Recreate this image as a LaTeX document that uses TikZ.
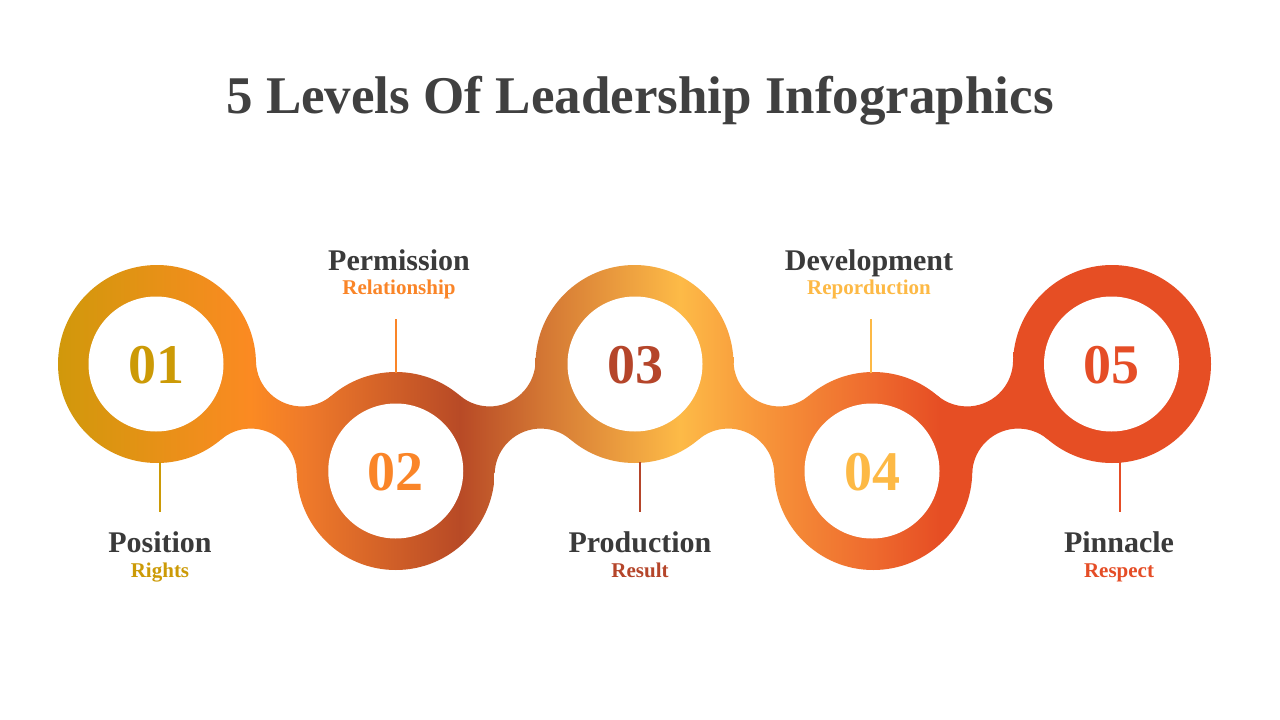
\documentclass[tikz,border=0pt]{standalone}
\usepackage{fontspec}
\setmainfont{Liberation Serif}
\usetikzlibrary{calc}
\definecolor{titlegray}{HTML}{404040}
\definecolor{labgray}{HTML}{3A3A3A}
\definecolor{cgold}{HTML}{CC9A06}
\definecolor{corange}{HTML}{FA8528}
\definecolor{crust}{HTML}{B5452A}
\definecolor{cyellow}{HTML}{FDB945}
\definecolor{cred}{HTML}{E54D26}
% gradient stops (px -> bp: 25 + 50*px/1280)
\definecolor{g0}{HTML}{CF990A}
\definecolor{g1}{HTML}{FB8A22}
\definecolor{g2}{HTML}{EF7A2A}
\definecolor{g3}{HTML}{B84A26}
\definecolor{g4}{HTML}{D47834}
\definecolor{g5}{HTML}{FDBA47}
\definecolor{g6}{HTML}{F7963A}
\definecolor{g7}{HTML}{EE6A2E}
\definecolor{g8}{HTML}{E64E24}
\pgfdeclarehorizontalshading{bandshade}{100bp}{%
 color(0bp)=(g0); color(26.95bp)=(g0); color(34.77bp)=(g1); color(36.9bp)=(g2);
 color(42.97bp)=(g3); color(46.3bp)=(g4); color(51.56bp)=(g5); color(54.7bp)=(g6);
 color(59.1bp)=(g7); color(61.7bp)=(g8); color(100bp)=(g8)}
\tikzset{
  bandfill/.style={shading=bandshade},
  hole/.style={circle, fill=white, minimum size=135pt, inner sep=0pt},
  numtxt/.style={font=\bfseries\fontsize{56}{56}\selectfont, anchor=base},
  headtxt/.style={font=\bfseries\fontsize{30}{30}\selectfont, text=labgray, anchor=base},
  subtxt/.style={font=\bfseries\fontsize{21}{21}\selectfont, anchor=base},
  stem/.style={line width=2pt}
}
\begin{document}
\begin{tikzpicture}[x=1pt,y=-1pt]
\useasboundingbox (0,0) rectangle (1280,720);
\fill[white] (0,0) rectangle (1280,720);
\node[font=\bfseries\fontsize{53}{53}\selectfont, text=titlegray, anchor=base] (title) at (640,113) {5 Levels Of Leadership Infographics};
% rings (outer disks)
\foreach \cx/\cy in {157/364, 395.75/471, 634.5/364, 873.25/471, 1112/364}{
  \begin{scope}
    \clip (\cx,\cy) circle[radius=99];
    \shade[bandfill] (0,0) rectangle (1280,720);
  \end{scope}
}
% bridges going down
\foreach \xl in {157, 634.5}{
  \begin{scope}
    \clip ($(\xl+144.95,360.43)+(178.59:46)$) arc[start angle=178.59, end angle=49.69, radius=46]
       -- ($(\xl+93.8,474.57)+(-1.41:46)$) arc[start angle=-1.41, end angle=-130.31, radius=46] -- cycle;
    \shade[bandfill] (0,0) rectangle (1280,720);
  \end{scope}
}
% bridges going up
\foreach \xl in {395.75, 873.25}{
  \begin{scope}
    \clip ($(\xl+93.8,360.43)+(130.31:46)$) arc[start angle=130.31, end angle=1.41, radius=46]
       -- ($(\xl+144.95,474.57)+(-49.69:46)$) arc[start angle=-49.69, end angle=-178.59, radius=46] -- cycle;
    \shade[bandfill] (0,0) rectangle (1280,720);
  \end{scope}
}
% inner white circles
\node[hole] (r1) at (156,364) {};
\node[hole] (r2) at (395.75,471) {};
\node[hole] (r3) at (635,364) {};
\node[hole] (r4) at (872,471) {};
\node[hole] (r5) at (1111.5,364) {};
\node[numtxt, text=cgold] (n1) at (156,383.5) {01};
\node[numtxt, text=corange] (n2) at (395.75,490) {02};
\node[numtxt, text=crust] (n3) at (635,383.5) {03};
\node[numtxt, text=cyellow] (n4) at (872,490) {04};
\node[numtxt, text=cred] (n5) at (1111.5,383.5) {05};
% stems
\coordinate (s1a) at (160,462); \coordinate (s1b) at (160,512);
\coordinate (s2a) at (396,373); \coordinate (s2b) at (396,319);
\coordinate (s3a) at (640,462); \coordinate (s3b) at (640,512);
\coordinate (s4a) at (871,373); \coordinate (s4b) at (871,319);
\coordinate (s5a) at (1120,462); \coordinate (s5b) at (1120,512);
\draw[stem, cgold] (s1a) -- (s1b);
\draw[stem, corange] (s2a) -- (s2b);
\draw[stem, crust] (s3a) -- (s3b);
\draw[stem, cyellow] (s4a) -- (s4b);
\draw[stem, cred] (s5a) -- (s5b);
% labels
\node[headtxt] (h1) at (160,552.5) {Position};
\node[subtxt, text=cgold] (t1) at (160,577) {Rights};
\node[headtxt] (h2) at (399,270) {Permission};
\node[subtxt, text=corange] (t2) at (399,294.5) {Relationship};
\node[headtxt] (h3) at (640,552.5) {Production};
\node[subtxt, text=crust] (t3) at (640,577) {Result};
\node[headtxt] (h4) at (869,270) {Development};
\node[subtxt, text=cyellow] (t4) at (869,294.5) {Reporduction};
\node[headtxt] (h5) at (1119,552.5) {Pinnacle};
\node[subtxt, text=cred] (t5) at (1119,577) {Respect};
\end{tikzpicture}
\end{document}
